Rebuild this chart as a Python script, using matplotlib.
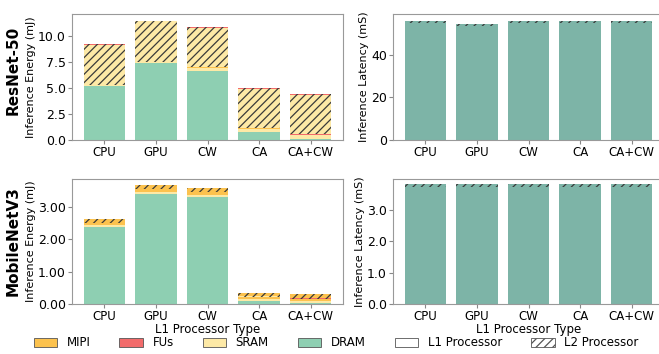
import numpy as np
import matplotlib
matplotlib.use("Agg")
import matplotlib.pyplot as plt
from matplotlib.patches import Patch

# categories (L1 processor type)
procs = ["CPU", "GPU", "CW", "CA", "CA+CW"]

# ResNet-50 energy (mJ) per component, L1 and L2 processor
rn_dram_l1 = [5.20, 7.40, 6.60, 0.75, 0.05]
rn_sram_l1 = [0.05, 0.05, 0.30, 0.30, 0.45]
rn_fus_l1 = [0.05, 0.05, 0.05, 0.05, 0.05]
rn_mipi_l1 = [0.02, 0.02, 0.02, 0.02, 0.02]
rn_dram_l2 = [0.00, 0.00, 0.00, 0.00, 0.00]
rn_sram_l2 = [3.85, 3.87, 3.82, 3.80, 3.78]
rn_fus_l2 = [0.05, 0.05, 0.05, 0.05, 0.05]
rn_mipi_l2 = [0.02, 0.02, 0.02, 0.02, 0.02]

# MobileNetV3 energy (mJ)
mn_dram_l1 = [2.38, 3.40, 3.30, 0.10, 0.02]
mn_sram_l1 = [0.05, 0.05, 0.05, 0.05, 0.07]
mn_fus_l1 = [0.005, 0.005, 0.005, 0.005, 0.005]
mn_mipi_l1 = [0.06, 0.08, 0.08, 0.07, 0.06]
mn_dram_l2 = [0.00, 0.00, 0.00, 0.00, 0.00]
mn_sram_l2 = [0.01, 0.01, 0.01, 0.01, 0.01]
mn_fus_l2 = [0.005, 0.005, 0.005, 0.005, 0.005]
mn_mipi_l2 = [0.12, 0.13, 0.13, 0.11, 0.13]

# latency (mS)
rn_lat_l1 = [54.6, 53.2, 54.6, 54.6, 54.6]
rn_lat_l2 = [1.1, 1.1, 1.1, 1.1, 1.1]
mn_lat_l1 = [3.72, 3.72, 3.72, 3.72, 3.72]
mn_lat_l2 = [0.10, 0.10, 0.10, 0.10, 0.10]

models = ["ResNet-50", "MobileNetV3"]

c_mipi = "#fcc24e"
c_fus = "#f26b6b"
c_sram = "#fde9a6"
c_dram = "#8ecfb2"
c_lat = "#7db4a7"
hatch_ec = "#3a3a3a"

plt.rcParams["font.family"] = "DejaVu Sans"
plt.rcParams["hatch.linewidth"] = 0.9

fig = plt.figure(figsize=(6.59, 3.54), dpi=100)
W, H = 659.0, 354.0


def add_ax(x0, y0, x1, y1):
    return fig.add_axes([x0 / W, 1 - y1 / H, (x1 - x0) / W, (y1 - y0) / H])


ax_e1 = add_ax(72, 14, 343, 140)
ax_l1 = add_ax(393, 14, 664, 140)
ax_e2 = add_ax(72, 179, 343, 304)
ax_l2 = add_ax(393, 179, 664, 304)

x = np.arange(len(procs))
bw = 0.8


def energy_stack(ax, l1_parts, l2_parts):
    bottom = np.zeros(len(procs))
    cols = [c_dram, c_sram, c_fus, c_mipi]
    for vals, c in zip(l1_parts, cols):
        ax.bar(x, vals, bw, bottom=bottom, color=c, linewidth=0)
        bottom += np.array(vals)
    for vals, c in zip(l2_parts, cols):
        ax.bar(x, vals, bw, bottom=bottom, color=c, hatch="////",
               edgecolor=hatch_ec, linewidth=0)
        bottom += np.array(vals)


def latency_stack(ax, l1, l2):
    ax.bar(x, l1, bw, color=c_lat, linewidth=0)
    ax.bar(x, l2, bw, bottom=l1, color=c_lat, hatch="////",
           edgecolor=hatch_ec, linewidth=0)


energy_stack(ax_e1, [rn_dram_l1, rn_sram_l1, rn_fus_l1, rn_mipi_l1],
             [rn_dram_l2, rn_sram_l2, rn_fus_l2, rn_mipi_l2])
energy_stack(ax_e2, [mn_dram_l1, mn_sram_l1, mn_fus_l1, mn_mipi_l1],
             [mn_dram_l2, mn_sram_l2, mn_fus_l2, mn_mipi_l2])
latency_stack(ax_l1, rn_lat_l1, rn_lat_l2)
latency_stack(ax_l2, mn_lat_l1, mn_lat_l2)

ax_e1.set_ylim(0, 12.1)
ax_e1.set_yticks([0, 2.5, 5.0, 7.5, 10.0])
ax_e1.set_yticklabels(["0.0", "2.5", "5.0", "7.5", "10.0"])
ax_e2.set_ylim(0, 3.85)
ax_e2.set_yticks([0, 1, 2, 3])
ax_e2.set_yticklabels(["0.00", "1.00", "2.00", "3.00"])
ax_l1.set_ylim(0, 59)
ax_l1.set_yticks([0, 20, 40])
ax_l2.set_ylim(0, 3.99)
ax_l2.set_yticks([0, 1, 2, 3])
ax_l2.set_yticklabels(["0.0", "1.0", "2.0", "3.0"])

for ax in [ax_e1, ax_e2, ax_l1, ax_l2]:
    ax.set_xlim(-0.63, 4.63)
    ax.set_xticks(x)
    ax.set_xticklabels(procs, fontsize=8.5)
    ax.tick_params(axis="y", labelsize=9, pad=1.5, length=3, color="#888888")
    ax.tick_params(axis="x", pad=1, length=3, color="#888888")
    for s in ax.spines.values():
        s.set_color("#999999")
        s.set_linewidth(0.8)

for ax in [ax_e1, ax_e2]:
    ax.set_ylabel("Inference Energy (mJ)", fontsize=8, labelpad=1)
for ax in [ax_l1, ax_l2]:
    ax.set_ylabel("Inference Latency (mS)", fontsize=8, labelpad=1)

ax_e2.set_xlabel("L1 Processor Type", fontsize=8.5, labelpad=0)
ax_l2.set_xlabel("L1 Processor Type", fontsize=8.5, labelpad=0)

fig.text(13 / W, 1 - 70 / H, models[0], rotation=90, fontsize=11,
         fontweight="bold", ha="center", va="center")
fig.text(13 / W, 1 - 241 / H, models[1], rotation=90, fontsize=11,
         fontweight="bold", ha="center", va="center")

handles = [
    Patch(facecolor=c_mipi, edgecolor="#555555", linewidth=0.6, label="MIPI"),
    Patch(facecolor=c_fus, edgecolor="#555555", linewidth=0.6, label="FUs"),
    Patch(facecolor=c_sram, edgecolor="#555555", linewidth=0.6, label="SRAM"),
    Patch(facecolor=c_dram, edgecolor="#555555", linewidth=0.6, label="DRAM"),
    Patch(facecolor="white", edgecolor="#555555", linewidth=0.6, label="L1 Processor"),
    Patch(facecolor="white", edgecolor="#555555", linewidth=0.6, hatch="////",
          label="L2 Processor"),
]
fig.legend(handles=handles, loc="center", bbox_to_anchor=(336 / W, 1 - 343 / H),
           ncol=6, frameon=False, fontsize=8.5, handlelength=2.0,
           handleheight=0.9, columnspacing=2.45, handletextpad=0.8,
           borderpad=0.1)

fig.savefig("out.png", dpi=100)
